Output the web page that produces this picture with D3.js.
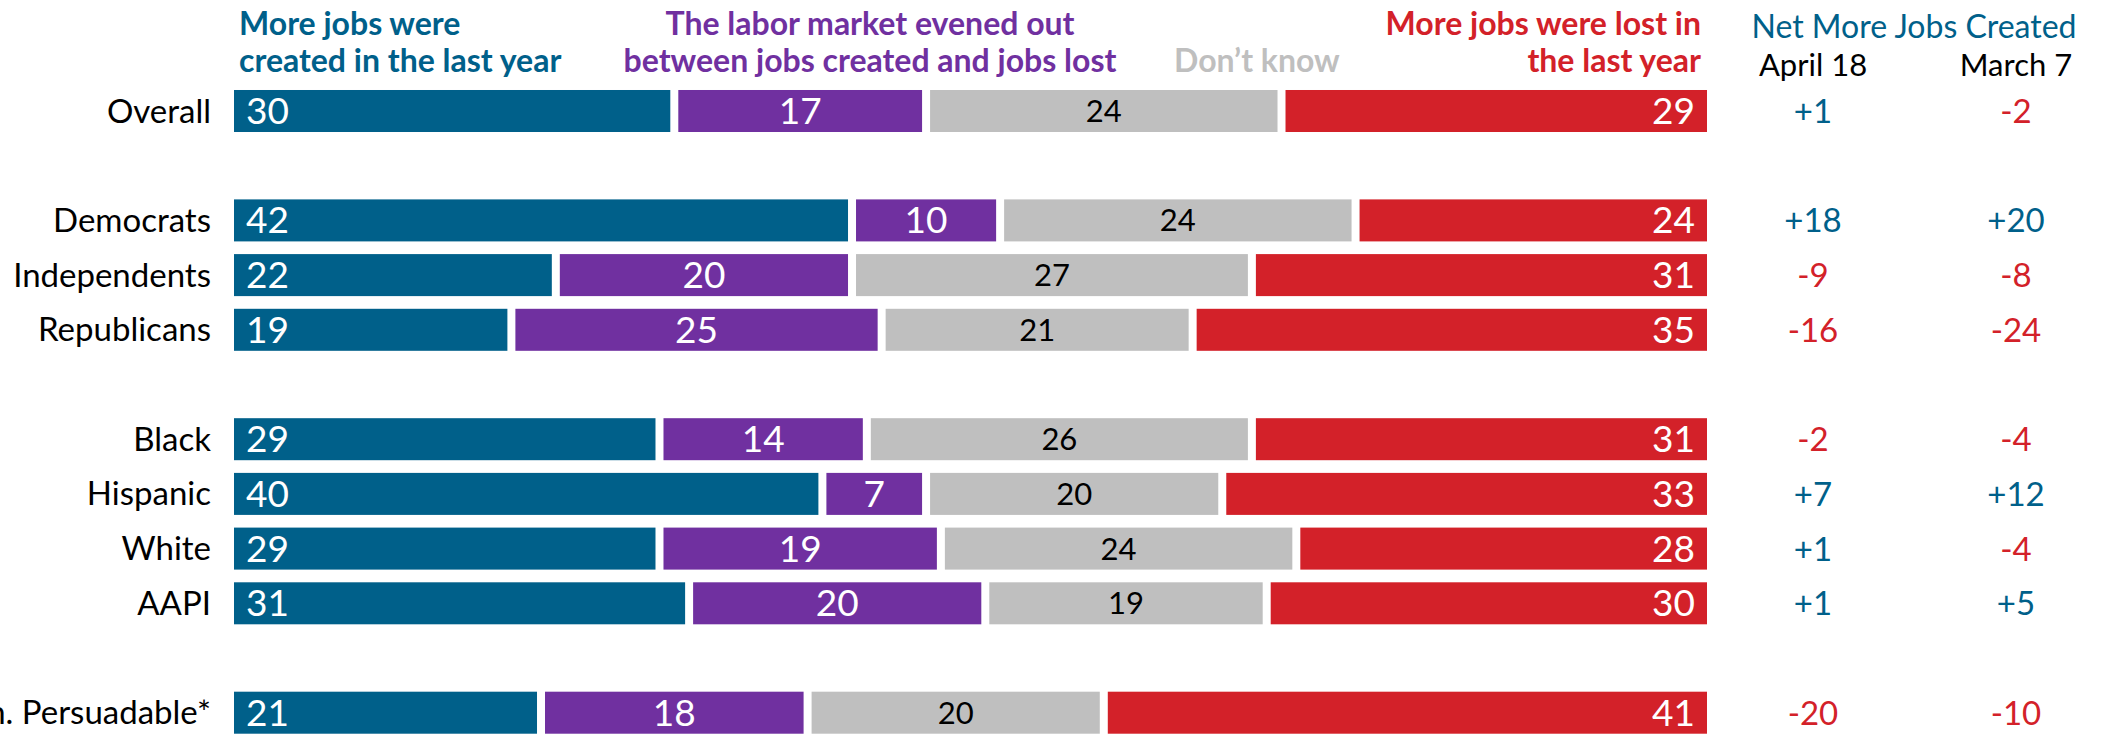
<!DOCTYPE html>
<html>
<head>
<meta charset="utf-8">
<script src="https://cdn.jsdelivr.net/npm/d3@7"></script>
<style>
  body { margin: 0; background: #fff; }
  svg { display: block; font-family: Lato, "Open Sans", sans-serif; }
</style>
</head>
<body>
<div id="container"></div>
<script>
/* CONSTANTS AND GLOBALS */
const width = 2106,
    height = 735;

const blue = "#00608a",
    purple = "#7030a0",
    gray = "#bfbfbf",
    red = "#d32129";

/* DATA */
const groups = ["Overall", "Democrats", "Independents", "Republicans", "Black", "Hispanic", "White", "AAPI", "Gen. Persuadable*"]
const section = [0, 1, 1, 1, 2, 2, 2, 2, 3]
const created = [30, 42, 22, 19, 29, 40, 29, 31, 21]
const evened = [17, 10, 20, 25, 14, 7, 19, 20, 18]
const dontKnow = [24, 24, 27, 21, 26, 20, 24, 19, 20]
const lost = [29, 24, 31, 35, 31, 33, 28, 30, 41]
const netApril = [1, 18, -9, -16, -2, 7, 1, 1, -20]
const netMarch = [-2, 20, -8, -24, -4, 12, -4, 5, -10]

const seriesNames = ["More jobs were created in the last year", "The labor market evened out between jobs created and jobs lost", "Don\u2019t know", "More jobs were lost in the last year"]
const columnDates = ["April 18", "March 7"]

const svg = d3.select("#container")
    .append("svg")
    .attr("width", width)
    .attr("height", height)

// rows with blank slots between sections
const domain = []
groups.forEach((g, i) => {
    if (i > 0 && section[i] !== section[i - 1]) domain.push("gap" + i)
    domain.push(g)
})

// SCALES
const gap = 8
const xScale = d3.scaleLinear()
    .domain([0, 100])
    .range([234, 1707 + gap])

const yScale = d3.scaleBand()
    .domain(domain)
    .range([83.65, 83.65 + 54.7 * domain.length])
    .paddingInner(0.232)
    .paddingOuter(0.116)

const rows = groups.map((g, i) => ({
    group: g,
    values: [created[i], evened[i], dontKnow[i], lost[i]],
    april: netApril[i],
    march: netMarch[i]
}))

const colors = [blue, purple, gray, red]

// BARS
const row = svg.selectAll("g.row")
    .data(rows)
    .join("g")
    .attr("class", "row")
    .attr("transform", d => "translate(0," + yScale(d.group) + ")")

const bh = yScale.bandwidth()

row.append("text")
    .attr("x", 211)
    .attr("y", bh / 2 + 11.5)
    .attr("text-anchor", "end")
    .style("font-size", "33px")
    .attr("fill", "#000")
    .text(d => d.group)

const seg = row.selectAll("g.seg")
    .data(d => {
        let cum = 0
        return d.values.map((v, k) => {
            const s = { k: k, v: v, x0: cum, x1: cum + v }
            cum += v
            return s
        })
    })
    .join("g")
    .attr("class", "seg")

seg.append("rect")
    .attr("x", d => xScale(d.x0))
    .attr("y", 0)
    .attr("width", d => xScale(d.x1) - xScale(d.x0) - gap)
    .attr("height", bh)
    .attr("fill", d => colors[d.k])

seg.append("text")
    .attr("x", d => {
        if (d.k === 0) return xScale(d.x0) + 12
        if (d.k === 3) return xScale(d.x1) - gap - 12
        return (xScale(d.x0) + xScale(d.x1) - gap) / 2
    })
    .attr("y", d => d.k === 2 ? bh / 2 + 11 : bh / 2 + 13)
    .attr("text-anchor", d => d.k === 0 ? "start" : d.k === 3 ? "end" : "middle")
    .attr("fill", d => d.k === 2 ? "#000" : "#fff")
    .style("font-size", d => d.k === 2 ? "31px" : "37px")
    .text(d => d.v)

// NET COLUMNS
const colX = [1813, 2016]
const fmt = v => (v > 0 ? "+" : "") + v

row.append("text")
    .attr("x", colX[0])
    .attr("y", bh / 2 + 12)
    .attr("text-anchor", "middle")
    .style("font-size", "33px")
    .attr("fill", d => d.april >= 0 ? blue : red)
    .text(d => fmt(d.april))

row.append("text")
    .attr("x", colX[1])
    .attr("y", bh / 2 + 12)
    .attr("text-anchor", "middle")
    .style("font-size", "33px")
    .attr("fill", d => d.march >= 0 ? blue : red)
    .text(d => fmt(d.march))

// HEADERS
function header(lines, x, anchor, color) {
    const t = svg.append("text")
        .attr("text-anchor", anchor)
        .attr("fill", color)
        .style("font-size", "32px")
        .style("font-weight", 700)
    lines.forEach((l, i) => {
        t.append("tspan")
            .attr("x", x)
            .attr("y", 35 + i * 37 + (lines.length === 1 ? 37 : 0))
            .text(l)
    })
}

header(["More jobs were", "created in the last year"], 239, "start", blue)
header(["The labor market evened out", "between jobs created and jobs lost"], 870, "middle", purple)
header([seriesNames[2]], 1174, "start", gray)
header(["More jobs were lost in", "the last year"], 1701, "end", red)

svg.append("text")
    .attr("x", 1914)
    .attr("y", 38)
    .attr("text-anchor", "middle")
    .attr("fill", blue)
    .style("font-size", "32px")
    .text("Net More Jobs Created")

svg.selectAll("text.date")
    .data(columnDates)
    .join("text")
    .attr("class", "date")
    .attr("x", (d, i) => colX[i])
    .attr("y", 76)
    .attr("text-anchor", "middle")
    .attr("fill", "#000")
    .style("font-size", "31px")
    .text(d => d)
</script>
</body>
</html>
